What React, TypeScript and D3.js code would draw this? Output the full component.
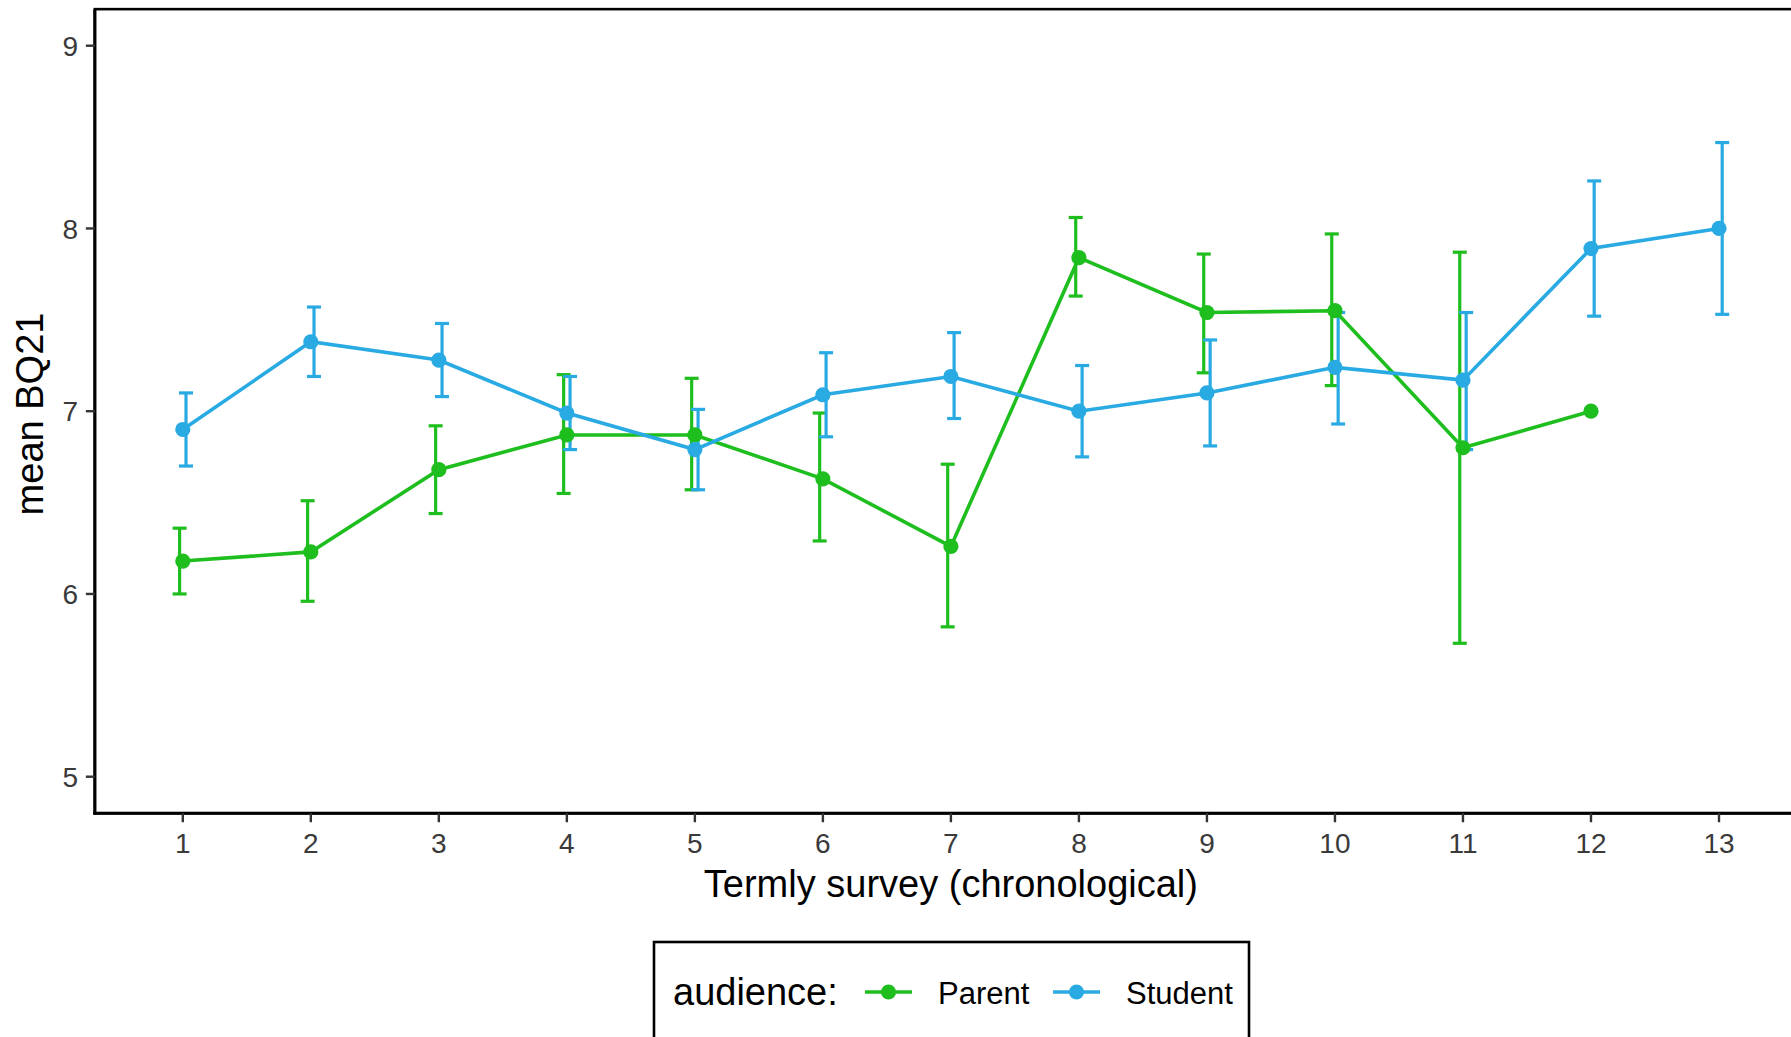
import React from "react";
import * as d3 from "d3";

const W = 1791;
const H = 1037;

// termly survey index
const surveys = [1, 2, 3, 4, 5, 6, 7, 8, 9, 10, 11, 12, 13];
const xTicks = [1, 2, 3, 4, 5, 6, 7, 8, 9, 10, 11, 12, 13];
const yTicks = [5, 6, 7, 8, 9];

// Parent (12 surveys, last one has no error bar)
const parentMean = [6.18, 6.23, 6.68, 6.87, 6.87, 6.63, 6.26, 7.84, 7.54, 7.55, 6.8, 7.0];
const parentLow = [6.0, 5.96, 6.44, 6.55, 6.57, 6.29, 5.82, 7.63, 7.21, 7.14, 5.73, null];
const parentHigh = [6.36, 6.51, 6.92, 7.2, 7.18, 6.99, 6.71, 8.06, 7.86, 7.97, 7.87, null];

// Student
const studentMean = [6.9, 7.38, 7.28, 6.99, 6.79, 7.09, 7.19, 7.0, 7.1, 7.24, 7.17, 7.89, 8.0];
const studentLow = [6.7, 7.19, 7.08, 6.79, 6.57, 6.86, 6.96, 6.75, 6.81, 6.93, 6.79, 7.52, 7.53];
const studentHigh = [7.1, 7.57, 7.48, 7.19, 7.01, 7.32, 7.43, 7.25, 7.39, 7.54, 7.54, 8.26, 8.47];

const GREEN = "#1fbe1f";
const BLUE = "#29aae3";
const FONT = "'Liberation Sans', Arial, sans-serif";

type Pt = { t: number; m: number; lo: number | null; hi: number | null };

const build = (mean: number[], lo: (number | null)[], hi: (number | null)[]): Pt[] =>
  mean.map((m, i) => ({ t: surveys[i], m, lo: lo[i], hi: hi[i] }));

const series = [
  { name: "Parent", color: GREEN, dodge: -0.025, data: build(parentMean, parentLow, parentHigh) },
  { name: "Student", color: BLUE, dodge: 0.025, data: build(studentMean, studentLow, studentHigh) },
];

const App = () => {
  const x = d3.scaleLinear().domain([1, 13]).range([182.8, 1719]);
  const y = d3.scaleLinear().domain([5, 9]).range([776.7, 45.7]);

  const left = x(0.313);
  const right = x(13.687);
  const top = y(9.2);
  const bottom = y(4.8);

  const line = d3
    .line<Pt>()
    .x((d) => x(d.t))
    .y((d) => y(d.m));

  const cap = 7;

  return (
    <svg
      width={W}
      height={H}
      style={{ position: "fixed", left: 0, top: 0, background: "#fff" }}
      fontFamily={FONT}
    >
      <rect x={0} y={0} width={W} height={H} fill="#fff" />

      {/* panel border */}
      <rect x={left} y={top} width={right - left} height={bottom - top} fill="none" stroke="#000" strokeWidth={2.6} />
      <line x1={left} x2={left} y1={top} y2={bottom + 1.5} stroke="#000" strokeWidth={3} />
      <line x1={left - 1.5} x2={right} y1={bottom} y2={bottom} stroke="#000" strokeWidth={3.2} />

      {/* y axis */}
      {yTicks.map((t) => (
        <g key={"y" + t}>
          <line x1={left - 9} x2={left} y1={y(t)} y2={y(t)} stroke="#333" strokeWidth={2.4} />
          <text x={78} y={y(t)} dy="0.36em" textAnchor="end" fontSize={28} fill="#3a3a3a">
            {t}
          </text>
        </g>
      ))}

      {/* x axis */}
      {xTicks.map((t) => (
        <g key={"x" + t}>
          <line x1={x(t)} x2={x(t)} y1={bottom} y2={bottom + 9} stroke="#333" strokeWidth={2.4} />
          <text x={x(t)} y={853} textAnchor="middle" fontSize={28} fill="#3a3a3a">
            {t}
          </text>
        </g>
      ))}

      <text x={(left + right) / 2} y={897} textAnchor="middle" fontSize={38} fill="#000">
        Termly survey (chronological)
      </text>
      <text transform={`translate(43, 414) rotate(-90)`} textAnchor="middle" fontSize={38} fill="#000">
        mean BQ21
      </text>

      {/* error bars */}
      {series.map((s) =>
        s.data
          .filter((d) => d.lo != null && d.hi != null)
          .map((d) => {
            const cx = x(d.t + s.dodge);
            return (
              <g key={s.name + "e" + d.t} stroke={s.color} strokeWidth={3.2}>
                <line x1={cx} x2={cx} y1={y(d.lo as number)} y2={y(d.hi as number)} />
                <line x1={cx - cap} x2={cx + cap} y1={y(d.lo as number)} y2={y(d.lo as number)} />
                <line x1={cx - cap} x2={cx + cap} y1={y(d.hi as number)} y2={y(d.hi as number)} />
              </g>
            );
          })
      )}

      {/* lines */}
      {series.map((s) => (
        <path key={s.name + "l"} d={line(s.data) || ""} fill="none" stroke={s.color} strokeWidth={3.6} />
      ))}

      {/* points */}
      {series.map((s) =>
        s.data.map((d) => (
          <circle key={s.name + "p" + d.t} cx={x(d.t)} cy={y(d.m)} r={7.6} fill={s.color} />
        ))
      )}

      {/* legend */}
      <rect x={654} y={942} width={595} height={120} fill="#fff" stroke="#000" strokeWidth={2.6} />
      <text x={673} y={1005} fontSize={38} fill="#000">
        audience:
      </text>
      {series.map((s, i) => {
        const kx = [865, 1053][i];
        const tx = [938, 1126][i];
        return (
          <g key={s.name + "leg"}>
            <line x1={kx} x2={kx + 47} y1={992} y2={992} stroke={s.color} strokeWidth={3.6} />
            <circle cx={kx + 23.5} cy={992} r={7.6} fill={s.color} />
            <text x={tx} y={1004} fontSize={31} fill="#000">
              {s.name}
            </text>
          </g>
        );
      })}
    </svg>
  );
};

export default App;
